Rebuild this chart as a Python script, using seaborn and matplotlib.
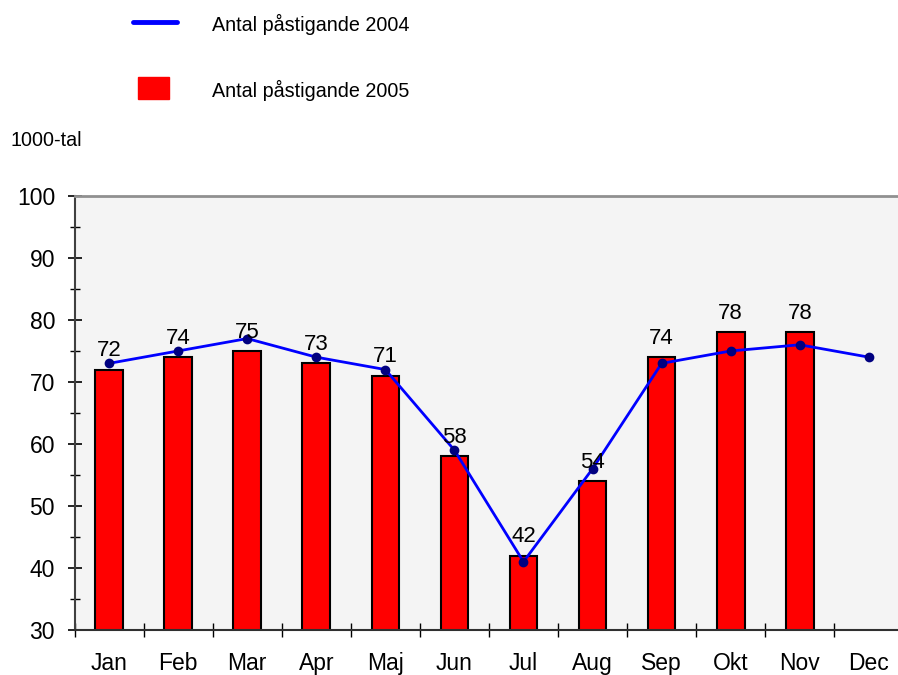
import numpy as np
import pandas as pd
import matplotlib.pyplot as plt
import seaborn as sns
from matplotlib.lines import Line2D
from matplotlib.patches import Rectangle
from matplotlib.ticker import MultipleLocator, FixedLocator

months = ['Jan', 'Feb', 'Mar', 'Apr', 'Maj', 'Jun', 'Jul', 'Aug', 'Sep', 'Okt', 'Nov', 'Dec']
pass_2004 = [73, 75, 77, 74, 72, 59, 41, 56, 73, 75, 76, 74]
pass_2005 = [72, 74, 75, 73, 71, 58, 42, 54, 74, 78, 78]
label_2004 = 'Antal påstigande 2004'
label_2005 = 'Antal påstigande 2005'
y_unit = '1000-tal'

sns.set_style('ticks')
plt.rcParams['font.family'] = ['Liberation Sans', 'DejaVu Sans']
plt.rcParams['text.color'] = 'black'
plt.rcParams['xtick.color'] = 'black'
plt.rcParams['ytick.color'] = 'black'
plt.rcParams['xtick.labelcolor'] = 'black'
plt.rcParams['ytick.labelcolor'] = 'black'

df04 = pd.DataFrame({'month': months, 'value': pass_2004})
df05 = pd.DataFrame({'month': months[:len(pass_2005)], 'value': pass_2005})

fig = plt.figure(figsize=(8.98, 6.75), dpi=100)
ax = fig.add_axes([0.083, 0.0667, 0.923, 0.643])
ax.set_facecolor('#f4f4f4')

sns.barplot(data=df05, x='month', y='value', order=months, color='#ff0000',
            width=0.4, edgecolor='black', linewidth=1.5, saturation=1, ax=ax)
sns.pointplot(data=df04, x='month', y='value', order=months, color='#0000ff',
              markers='o', markersize=5.5, linewidth=2.0, errorbar=None, ax=ax)
for ln in ax.lines:
    ln.set_markerfacecolor('#000080')
    ln.set_markeredgecolor('#000080')

ax.bar_label(ax.containers[0], fontsize=16, padding=6, color='black')

ax.set_xlim(-0.5, 11.5)
ax.set_ylim(30, 100)
ax.yaxis.set_major_locator(MultipleLocator(10))
ax.yaxis.set_minor_locator(MultipleLocator(5))
ax.xaxis.set_minor_locator(FixedLocator(np.arange(-0.5, 12, 1)))
ax.tick_params(axis='x', which='major', length=0, labelsize=16.5, pad=16)
ax.tick_params(axis='x', which='minor', direction='inout', length=10, width=1)
ax.tick_params(axis='y', which='major', direction='inout', length=10, width=1.2,
               labelsize=16.5, pad=9)
ax.tick_params(axis='y', which='minor', direction='inout', length=7, width=1)
ax.set_xlabel('')
ax.set_ylabel('')

ax.spines['top'].set_color('#909090')
ax.spines['top'].set_linewidth(2)
ax.spines['left'].set_color('#404040')
ax.spines['left'].set_linewidth(1.5)
ax.spines['bottom'].set_color('#303030')
ax.spines['bottom'].set_linewidth(1.5)
ax.spines['right'].set_visible(False)

# legend drawn by hand at the top
fig.add_artist(Line2D([133 / 898, 177 / 898], [1 - 22 / 675] * 2, color='#0000ff',
                      lw=3.5, transform=fig.transFigure))
fig.add_artist(Rectangle((138 / 898, 1 - 99 / 675), 31 / 898, 22 / 675,
                         color='#ff0000', transform=fig.transFigure))
fig.text(212 / 898, 1 - 24 / 675, label_2004, fontsize=14.2, va='center')
fig.text(212 / 898, 1 - 90 / 675, label_2005, fontsize=14.2, va='center')
fig.text(10 / 898, 1 - 140 / 675, y_unit, fontsize=14.2, va='center')

fig.savefig('out.png', dpi=100)
